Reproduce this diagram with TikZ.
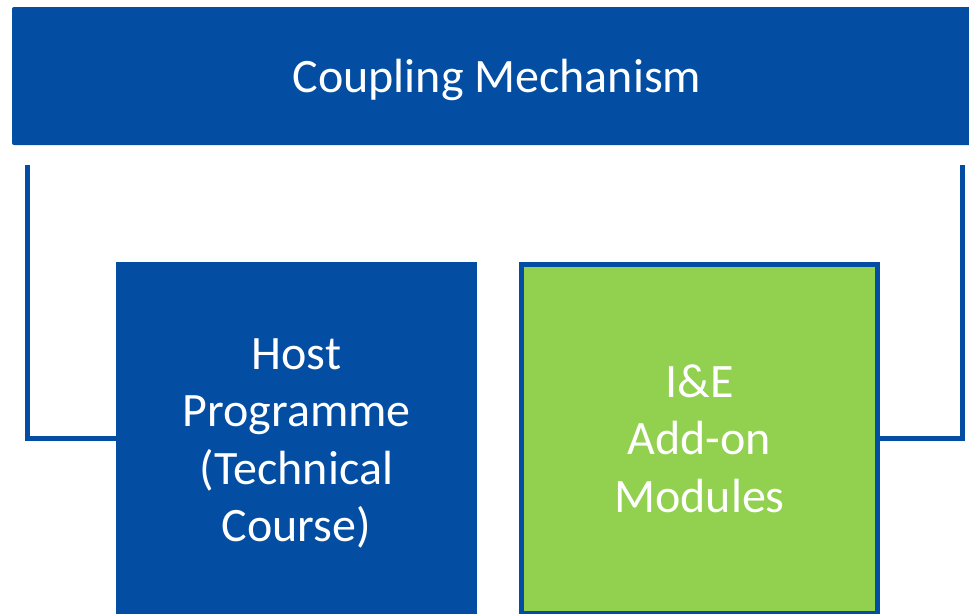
\documentclass[tikz,border=0pt]{standalone}
\usepackage{fontspec}
\setmainfont{Carlito}
\definecolor{cmblue}{RGB}{3,78,162}
\definecolor{cmgreen}{RGB}{146,208,80}
\tikzset{
  block/.style={fill=cmblue, text=white, align=center, inner sep=0pt,
    font=\fontsize{48}{57.5}\selectfont},
  link/.style={draw=cmblue, line width=5pt}
}
\begin{document}
\begin{tikzpicture}[x=1pt,y=-1pt]
      \useasboundingbox (0,0) rectangle (969,613);
      \node[block, rounded corners=2pt, minimum width=970pt, minimum height=138pt, text height=40pt, text depth=7pt] (bar) at (497,76) {Coupling Mechanism};
      \node[block, minimum width=361pt, minimum height=354pt] (host) at (296.5,438.5) {\rule{0pt}{41pt}Host\\Programme\\(Technical\\Course)};
      \node[block, fill=cmgreen, draw=cmblue, line width=5pt, minimum width=356pt, minimum height=349pt] (ie) at (699.5,438.5) {I\&E\\Add-on\\Modules};

      \coordinate (lt) at (27,165);
      \coordinate (rt) at (962,165);
      \draw[link] (lt) |- (host.west);
      \draw[link] (rt) |- (ie.east);
\end{tikzpicture}
\end{document}
